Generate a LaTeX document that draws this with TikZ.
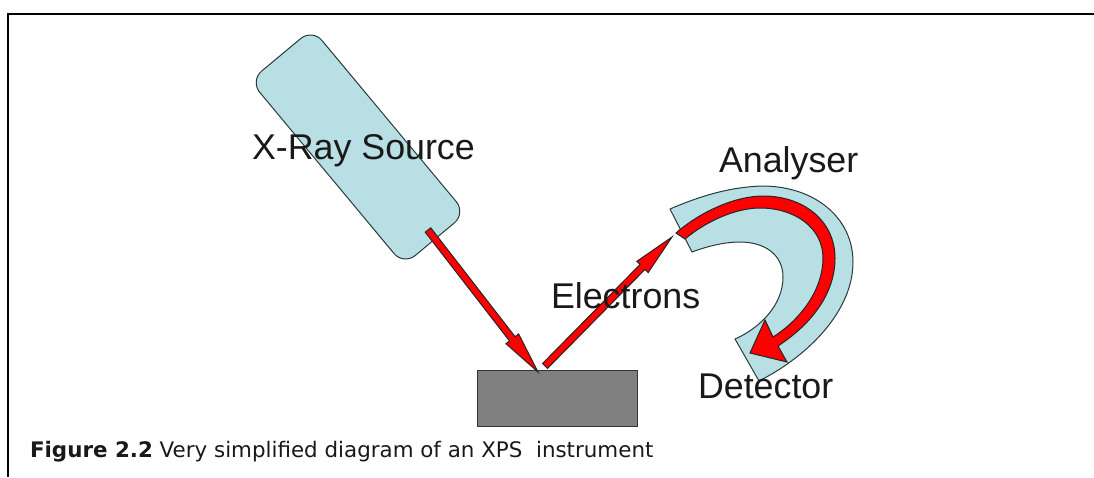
\documentclass[tikz,border=0pt]{standalone}
\usepackage{fontspec}
\setmainfont{Liberation Sans}
\newfontfamily\capfont{DejaVu Sans}
\usetikzlibrary{calc}
\definecolor{paleblue}{HTML}{B8DFE3}
\definecolor{edgegrey}{HTML}{2A3A3C}
\tikzset{
  partshape/.style={draw=edgegrey,fill=paleblue,line width=1pt,line join=round},
  redshape/.style={draw=black!85,fill=red,line width=1pt,line join=miter},
  label/.style={anchor=base west,inner sep=0pt,outer sep=0pt,font=\fontsize{35.8}{40}\selectfont,text=black!90},
  caption/.style={anchor=base west,inner sep=0pt,outer sep=0pt,font=\capfont\fontsize{21.4}{25}\selectfont,text=black!90},
  frameline/.style={draw=black,line width=2pt}
}
% tail, tip, head length, half shaft width, half head width
\newcommand{\blockarrow}[5]{%
  \coordinate (hb) at ($(#2)!#3!(#1)$);
  \draw[redshape] ($(#1)!#4!90:(#2)$) -- ($(hb)!#4!90:(#2)$) -- ($(hb)!#5!90:(#2)$) -- (#2)
    -- ($(hb)!#5!-90:(#2)$) -- ($(hb)!#4!-90:(#2)$) -- ($(#1)!#4!-90:(#2)$) -- cycle;
}
\begin{document}
\begin{tikzpicture}[x=1pt,y=-1pt]
\useasboundingbox (0,0) rectangle (1094,477);
\draw[frameline] (1094,14) -- (8,14) -- (8,477);

\node[partshape,rotate=-50.2,minimum width=240pt,minimum height=81pt,rounded corners=15pt,inner sep=0pt,outer sep=0pt] (source) at (358,147) {};
\node[draw=black!80,fill=black!50,line width=1pt,minimum width=160pt,minimum height=56pt,inner sep=0pt,outer sep=0pt] (sample) at (557,398) {};

% Analyser body
\draw[partshape] (670,209) .. controls (700,196) and (730,187) .. (762,186)
  .. controls (815,186) and (853,218) .. (853,262)
  .. controls (853,310) and (810,355) .. (759,381)
  -- (735,339)
  .. controls (760,328) and (783,305) .. (783,277)
  .. controls (783,255) and (765,242) .. (740,242)
  .. controls (725,242) and (708,246) .. (692,252) -- cycle;

% Curved block arrow
\draw[redshape] (676,233) .. controls (700,212) and (735,196) .. (763,196)
  .. controls (805,196) and (835,222) .. (835,258)
  .. controls (835,295) and (810,325) .. (778,346)
  -- (787,362) -- (750,353) -- (765,320) -- (773,337)
  .. controls (800,320) and (823,290) .. (823,258)
  .. controls (823,228) and (795,208) .. (760,208)
  .. controls (735,208) and (705,222) .. (685,239) -- cycle;

% Straight beams
\coordinate (xtail) at (428,230);
\coordinate (xtip) at (538,372);
\coordinate (etail) at (545,366);
\coordinate (etip) at (672,237);
\blockarrow{xtail}{xtip}{42pt}{3.5pt}{8pt}
\blockarrow{etail}{etip}{42pt}{3.5pt}{8pt}

\node[label] (xlabel) at (252,159) {X-Ray Source};
\node[label] (alabel) at (719,172) {Analyser};
\node[label] (elabel) at (551,308) {Electrons};
\node[label] (dlabel) at (698,398) {Detector};
\node[caption] (cap) at (30,457) {\textbf{Figure 2.2} Very simplified diagram of an XPS\ \ instrument};
\end{tikzpicture}
\end{document}
